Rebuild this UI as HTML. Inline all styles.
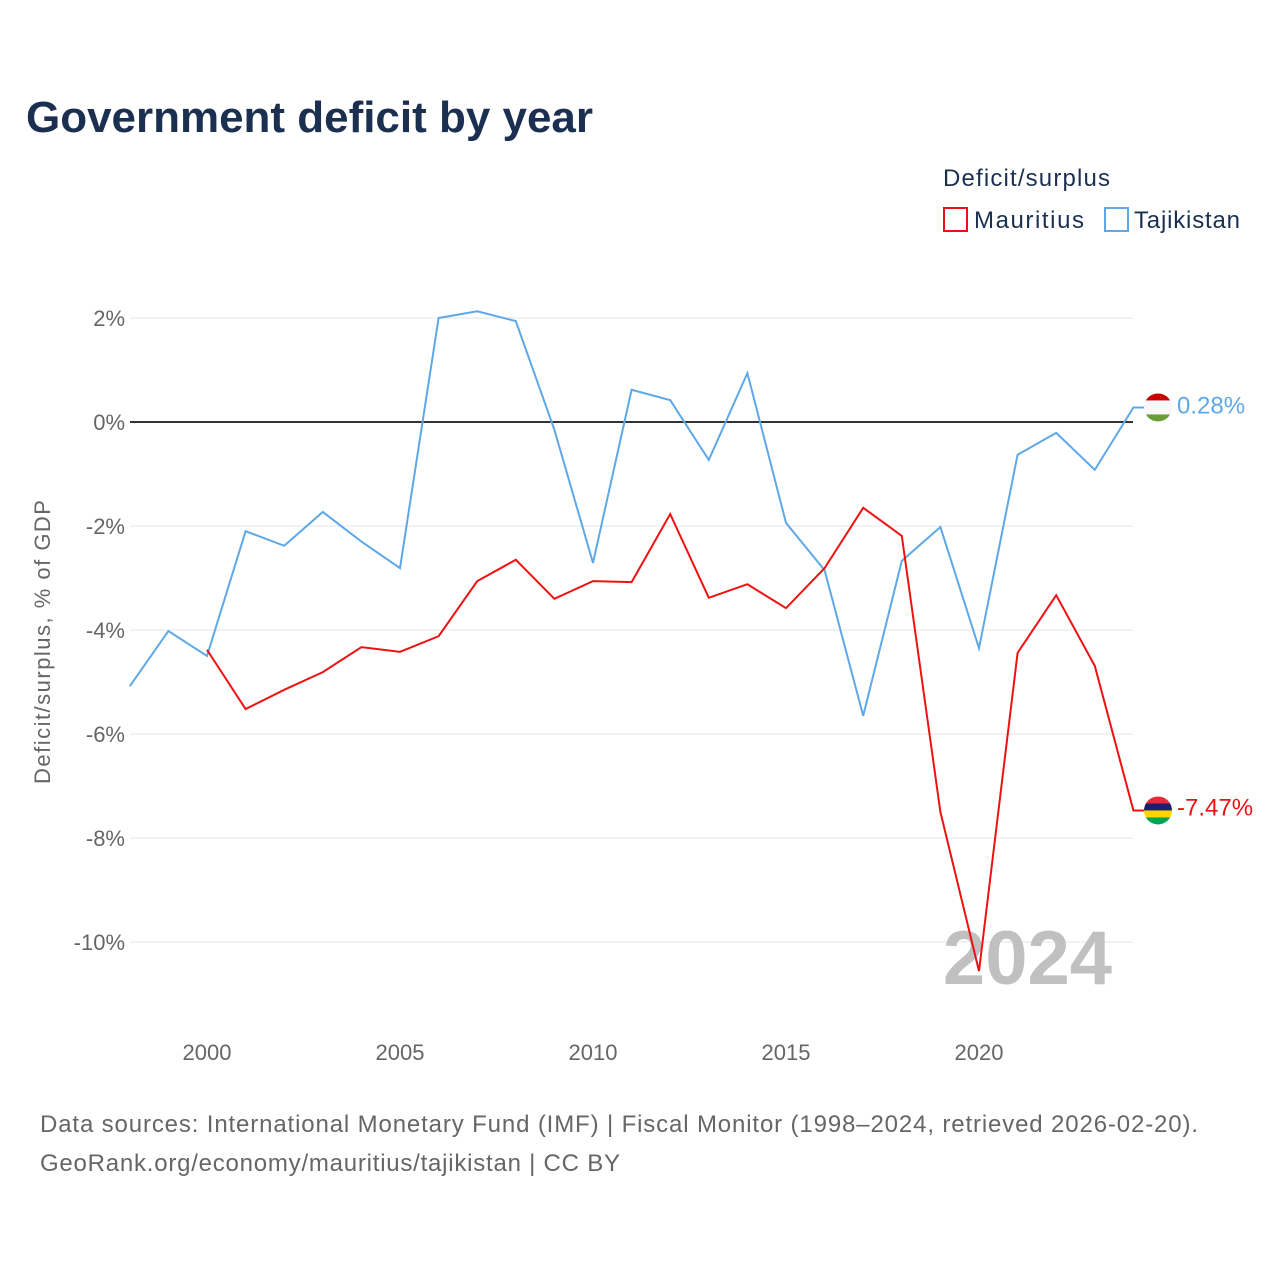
<!DOCTYPE html>
<html><head><meta charset="utf-8">
<style>
body{margin:0;background:#fff;font-family:"Liberation Sans",sans-serif;}
svg text{font-family:"Liberation Sans",sans-serif;}
</style></head>
<body>
<svg width="1280" height="1280" viewBox="0 0 1280 1280">
<text x="26" y="132" font-size="44" font-weight="bold" fill="#1b3050" textLength="567">Government deficit by year</text>
<text x="943" y="186" font-size="24" fill="#1b3050" textLength="167">Deficit/surplus</text>
<g><rect x="944" y="208" width="23" height="23" fill="none" stroke="#ee1111" stroke-width="2"/><text x="974" y="228" font-size="24" fill="#1b3050" textLength="110">Mauritius</text></g>
<g><rect x="1105" y="208" width="23" height="23" fill="none" stroke="#5fa8e8" stroke-width="2"/><text x="1134" y="228" font-size="24" fill="#1b3050" textLength="106">Tajikistan</text></g>
<g id="grid"></g>
<g id="yticks"></g>
<g id="xticks"></g>
<text transform="translate(50,642) rotate(-90)" text-anchor="middle" font-size="22" fill="#666" textLength="284">Deficit/surplus, % of GDP</text>
<text x="1112" y="984" text-anchor="end" font-size="76" font-weight="bold" fill="#c0c0c0">2024</text>
<g id="series"></g>
<text x="40" y="1132" font-size="24" fill="#666" textLength="1158">Data sources: International Monetary Fund (IMF) | Fiscal Monitor (1998–2024, retrieved 2026-02-20).</text>
<text x="40" y="1171" font-size="24" fill="#666" textLength="580">GeoRank.org/economy/mauritius/tajikistan | CC BY</text>
</svg>
<script>
const yearsTaj=[1998,1999,2000,2001,2002,2003,2004,2005,2006,2007,2008,2009,2010,2011,2012,2013,2014,2015,2016,2017,2018,2019,2020,2021,2022,2023,2024];
const tajikistan=[-5.08,-4.02,-4.5,-2.1,-2.38,-1.73,-2.3,-2.81,2.0,2.13,1.94,-0.15,-2.71,0.62,0.42,-0.73,0.94,-1.94,-2.85,-5.65,-2.67,-2.02,-4.35,-0.63,-0.21,-0.92,0.28];
const yearsMau=[2000,2001,2002,2003,2004,2005,2006,2007,2008,2009,2010,2011,2012,2013,2014,2015,2016,2017,2018,2019,2020,2021,2022,2023,2024];
const mauritius=[-4.38,-5.52,-5.15,-4.81,-4.33,-4.42,-4.12,-3.06,-2.65,-3.4,-3.06,-3.08,-1.77,-3.38,-3.12,-3.58,-2.81,-1.65,-2.19,-7.5,-10.56,-4.44,-3.33,-4.69,-7.47];
const yTicks=[2,0,-2,-4,-6,-8,-10];
const xTicks=[2000,2005,2010,2015,2020];
const NS="http://www.w3.org/2000/svg";
const xS=y=>207+(y-2000)*38.6;
const yS=v=>422-v*52;
function mk(t,a,p){const e=document.createElementNS(NS,t);for(const k in a)e.setAttribute(k,a[k]);p.appendChild(e);return e;}
const grid=document.getElementById('grid'),yt=document.getElementById('yticks'),xt=document.getElementById('xticks'),se=document.getElementById('series');
yTicks.forEach(v=>{
 const l=mk('line',{x1:130,x2:1133,y1:yS(v),y2:yS(v),stroke:v===0?'#333':'#e6e6e6','stroke-width':v===0?2:1},grid);
 
 
 const t=mk('text',{x:125,y:yS(v)+8,'text-anchor':'end','font-size':22,fill:'#666'},yt);
 t.textContent=v+'%';
 
 
});
xTicks.forEach(y=>{
 const t=mk('text',{x:xS(y),y:1060,'text-anchor':'middle','font-size':22,fill:'#666'},xt);
 t.textContent=y;
 
 
});
function line(years,vals,color,name,flag,label,dy){
 let d=years.map((y,i)=>(i?'L':'M')+xS(y)+','+yS(vals[i])).join(' ');
 const last=vals[vals.length-1];
 d+=' L1158,'+yS(last);
 const p=mk('path',{d:d,fill:'none',stroke:color,'stroke-width':2},se);
 
 
 const cy=yS(last),g=mk('g',{},se);
 
 
 const cp=mk('clipPath',{id:'c'+name},g);mk('circle',{cx:1158,cy:cy,r:14},cp);
 const h=28/flag.length;
 flag.forEach((c,i)=>mk('rect',{x:1144,y:cy-14+i*h,width:28,height:h+0.5,fill:c,'clip-path':'url(#c'+name+')'},g));
 const t=mk('text',{x:1177,y:cy+dy,'font-size':24,fill:color},se);
 t.textContent=label;
 
 
}
line(yearsTaj,tajikistan,'#5fa8e8','tajikistan',['#cc0000','#f8f8f8','#f8f8f8','#6a9c38'],tajikistan[tajikistan.length-1].toFixed(2)+'%',6);
line(yearsMau,mauritius,'#ee1111','mauritius',['#ea2839','#1a206d','#ffd500','#00a551'],mauritius[mauritius.length-1].toFixed(2)+'%',5);
</script>
</body></html>
